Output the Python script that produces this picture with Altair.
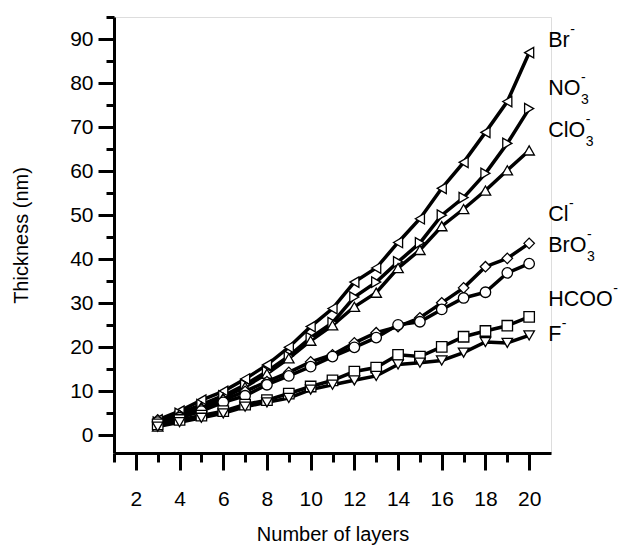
import altair as alt
import pandas as pd

layers = list(range(3, 21))

br   = [3.5, 5.5, 8.0, 10.0, 12.8, 16.0, 20.0, 24.7, 28.8, 34.8, 38.0, 43.8, 49.2, 56.1, 62.0, 68.8, 75.8, 86.9]
no3  = [3.0, 5.0, 7.0, 9.0, 11.5, 14.5, 18.0, 22.2, 25.6, 31.4, 34.8, 39.4, 43.7, 50.0, 54.0, 59.5, 66.3, 74.2]
clo3 = [2.0, 4.5, 6.5, 8.5, 11.0, 14.0, 17.5, 21.5, 25.0, 29.2, 32.4, 38.0, 42.1, 47.5, 51.4, 55.6, 60.2, 64.7]
cl   = [3.5, 4.5, 6.0, 8.0, 10.0, 12.2, 14.3, 16.7, 18.3, 21.0, 23.3, 24.7, 26.7, 30.1, 33.5, 38.3, 40.2, 43.6]
bro3 = [3.0, 4.0, 5.5, 7.5, 9.0, 11.5, 13.5, 15.6, 17.9, 20.0, 22.2, 25.1, 25.8, 28.6, 31.2, 32.5, 36.9, 39.0]
hcoo = [2.5, 3.5, 4.5, 5.5, 7.0, 8.0, 9.5, 11.1, 12.5, 14.5, 15.4, 18.3, 17.9, 20.1, 22.4, 23.7, 24.9, 26.9]
f    = [2.0, 3.0, 4.0, 5.0, 6.5, 7.5, 8.5, 10.4, 11.5, 12.5, 13.5, 16.1, 16.5, 17.0, 18.8, 21.2, 21.0, 22.7]

series_names = ["Br", "NO3", "ClO3", "Cl", "BrO3", "HCOO", "F"]
series_vals = [br, no3, clo3, cl, bro3, hcoo, f]
shapes = ["triangle-left", "triangle-right", "triangle-up", "diamond", "circle", "square", "triangle-down"]

label_base = ["Br", "NO", "ClO", "Cl", "BrO", "HCOO", "F"]
label_sub = ["", "3", "3", "", "3", "", ""]
label_y = [89.6, 78.7, 69.2, 50.0, 43.0, 30.8, 22.9]
label_x = 20.87

x_major = list(range(2, 21, 2))
x_minor = list(range(1, 20, 2))
y_major = list(range(0, 91, 10))
y_minor = list(range(5, 96, 10))

rows = []
for name, vals in zip(series_names, series_vals):
    for xv, yv in zip(layers, vals):
        rows.append({"Layers": xv, "Thickness": yv, "Series": name})
df = pd.DataFrame(rows)

# approximate Arial advance widths (em) to place super/subscripts after base text
cw = {"B": 0.667, "r": 0.333, "N": 0.722, "O": 0.778, "C": 0.722, "l": 0.222, "H": 0.722, "F": 0.611}
FS = 21.5
PX_PER_X = 437 / 20.0
lab_rows = []
for b, s, yv in zip(label_base, label_sub, label_y):
    w = sum(cw[c] for c in b) * FS
    lab_rows.append({"base": b, "sub": s, "sup": "-", "y": yv, "x": label_x,
                     "xs": label_x + (w + 0.5) / PX_PER_X})
lab = pd.DataFrame(lab_rows)

FONT = "Liberation Sans"

xscale = alt.Scale(domain=[1, 21], nice=False, zero=False)
yscale = alt.Scale(domain=[-4, 95], nice=False, zero=False)

common = dict(tickWidth=3, domainWidth=3, tickColor="black", domainColor="black",
              labelColor="black", titleColor="black", labelFont=FONT, titleFont=FONT,
              labelFontSize=21, titleFontSize=20, titleFontWeight="normal", grid=False,
              labelFlush=False, labelOverlap=False)

xaxis = alt.Axis(title="Number of layers", values=x_major, tickSize=17, labelPadding=18,
                 titlePadding=15, orient="bottom", **common)
yaxis = alt.Axis(title="Thickness (nm)", values=y_major, tickSize=16, labelPadding=5,
                 titlePadding=38, orient="left", **common)
xaxis_minor = alt.Axis(title=None, values=x_minor, tickSize=9, labels=False, domain=False,
                       orient="bottom", tickWidth=3, tickColor="black", grid=False)
yaxis_minor = alt.Axis(title=None, values=y_minor, tickSize=8, labels=False, domain=False,
                       orient="left", tickWidth=3, tickColor="black", grid=False)

base = alt.Chart(df)
lines = base.mark_line(color="black", strokeWidth=3.5).encode(
    x=alt.X("Layers:Q", scale=xscale, axis=xaxis),
    y=alt.Y("Thickness:Q", scale=yscale, axis=yaxis),
    detail="Series:N",
)
points = base.mark_point(filled=True, fill="white", stroke="black", strokeWidth=1.3,
                         size=110, opacity=1).encode(
    x=alt.X("Layers:Q", axis=xaxis_minor),
    y=alt.Y("Thickness:Q", axis=yaxis_minor),
    shape=alt.Shape("Series:N", scale=alt.Scale(domain=series_names, range=shapes), legend=None),
)

lbase = alt.Chart(lab)
tx = alt.X("x:Q", axis=None)
txs = alt.X("xs:Q", axis=None)
ty = alt.Y("y:Q", axis=None)
t_main = lbase.mark_text(align="left", baseline="middle", font=FONT, fontSize=FS,
                         color="black").encode(x=tx, y=ty, text="base:N")
t_sup = lbase.mark_text(align="left", baseline="middle", font=FONT, fontSize=14,
                        color="black", dy=-11).encode(x=txs, y=ty, text="sup:N")
t_sub = lbase.mark_text(align="left", baseline="middle", font=FONT, fontSize=14,
                        color="black", dy=11).encode(x=txs, y=ty, text="sub:N")

chart = alt.layer(lines, points, t_main, t_sup, t_sub).resolve_axis(
    x="independent", y="independent"
).properties(
    width=437, height=436,
    autosize=alt.AutoSizeParams(type="none"),
    padding={"left": 106, "top": 9, "right": 67, "bottom": 92},
).configure_view(stroke=None).configure(background="white")

chart.save("out.html", embed_options={"renderer": "svg", "actions": False})
